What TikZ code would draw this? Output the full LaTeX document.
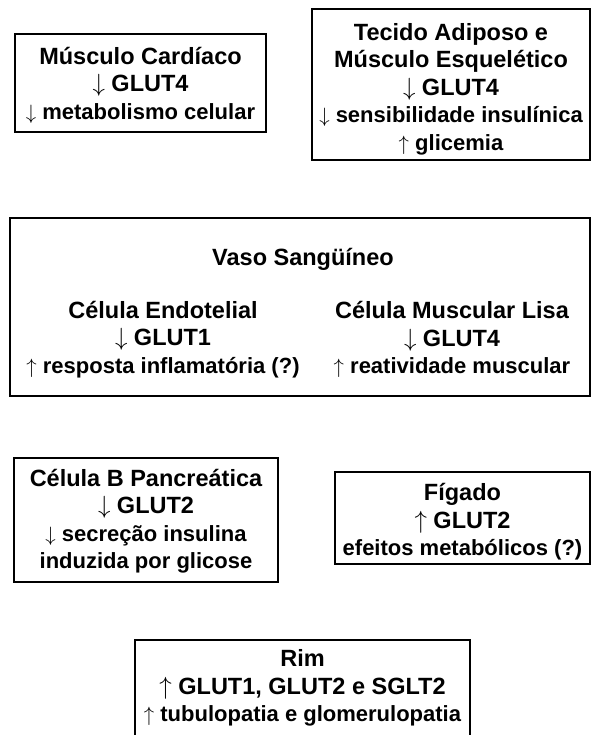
\documentclass[tikz,border=0pt]{standalone}
\usepackage{fontspec}
\setmainfont{Liberation Sans}
\usetikzlibrary{positioning}
\newcommand{\baixo}{$\downarrow$\;}
\newcommand{\alto}{$\uparrow$\;}
\newcommand{\efeito}[1]{{\fontsize{22}{27.5}\selectfont #1}}

\begin{document}
\begin{tikzpicture}[x=1pt,y=-1pt,
    caixa/.style={draw,line width=1.8pt,inner sep=0pt},
    texto/.style={align=center,inner sep=0pt,font=\bfseries\fontsize{23.5}{27.5}\selectfont}]
    \useasboundingbox (0,0) rectangle (591,735);
    % caixas
    \node[caixa, minimum width=251pt, minimum height=98pt] (cardiaco) at (140.5,83) {};
    \node[caixa, minimum width=278pt, minimum height=151pt] (adiposo) at (451,84.5) {};
    \node[caixa, minimum width=580pt, minimum height=178pt] (vaso) at (300,307) {};
    \node[caixa, minimum width=264pt, minimum height=124pt] (pancreas) at (146,520) {};
    \node[caixa, minimum width=255pt, minimum height=92pt] (figado) at (462.5,518) {};
    \node[caixa, minimum width=335pt, minimum height=100pt] (rim) at (302.5,690) {};
    % textos
    \node[texto] (cardiacotexto) at (140.5,85)
        {Músculo Cardíaco\\ \baixo GLUT4\\ \efeito{\baixo metabolismo celular}};
    \node[texto] (adiposotexto) at (451,89)
        {Tecido Adiposo e\\ Músculo Esquelético\\ \baixo GLUT4\\ \efeito{\baixo sensibilidade insulínica}\\ \efeito{\alto glicemia}};
    \node[texto] (titulo) at (303,259) {Vaso Sangüíneo};
    \node[texto] (endotelial) at (163,339.5)
        {Célula Endotelial\\ \baixo GLUT1\\ \efeito{\alto resposta inflamatória (?)}};
    \node[texto] (lisa) at (452,339.5)
        {Célula Muscular Lisa\\ \baixo GLUT4\\ \efeito{\alto reatividade muscular}};
    \node[texto] (pancreastexto) at (146,521)
        {Célula B Pancreática\\ \baixo GLUT2\\ \efeito{\baixo secreção insulina}\\ \efeito{induzida por glicose}};
    \node[texto] (figadotexto) at (462.5,522)
        {Fígado\\ \alto GLUT2\\ \efeito{efeitos metabólicos (?)}};
    \node[texto] (rimtexto) at (302.5,688)
        {Rim\\ \alto GLUT1, GLUT2 e SGLT2\\ \efeito{\alto tubulopatia e glomerulopatia}};
\end{tikzpicture}
\end{document}
